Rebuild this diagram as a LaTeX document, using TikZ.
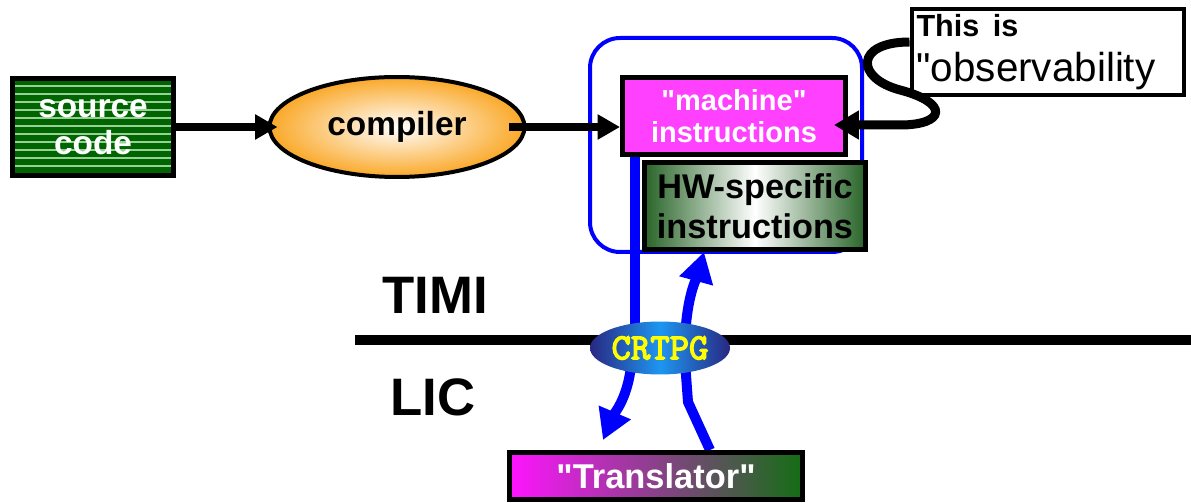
\documentclass[tikz,border=0pt]{standalone}
\usepackage{fontspec}
\setmainfont{Liberation Sans}[Ligatures=TeXOff]
\newfontfamily\crtfont{lmmono10-regular.otf}[AutoFakeBold=3.5]
\usetikzlibrary{arrows.meta,shapes.geometric,positioning,backgrounds,calc}

\definecolor{srcgreen}{RGB}{0,100,0}
\definecolor{stripegreen}{RGB}{150,210,150}
\definecolor{comporange}{RGB}{250,168,40}
\definecolor{machmagenta}{RGB}{255,64,255}
\definecolor{hwgreen}{RGB}{40,100,40}
\definecolor{trmagenta}{RGB}{255,20,255}
\definecolor{trgreen}{RGB}{20,110,20}
\definecolor{crtdark}{RGB}{40,40,130}
\definecolor{crtlight}{RGB}{30,150,240}
\definecolor{crtyellow}{RGB}{255,255,0}

\tikzset{
	bigtext/.style={font=\bfseries\fontsize{19}{21}\selectfont},
	srcbox/.style={draw, line width=0.1cm, fill=srcgreen, text=white, bigtext, align=center,
		minimum width=3.24cm, minimum height=1.94cm, inner sep=0pt,
		path picture={\foreach \k in {0,...,12}
			\draw[stripegreen, line width=0.04cm] ($(path picture bounding box.north west)+(0,\k*8+7)$) -- ++(200,0);}},
	compnode/.style={ellipse, draw, line width=0.08cm, inner color=white, outer color=comporange,
		bigtext, minimum width=5.1cm, minimum height=2cm, inner sep=1pt},
	machbox/.style={draw, line width=0.1cm, fill=machmagenta, text=white, align=center,
		font=\bfseries\fontsize{16.5}{18}\selectfont, minimum width=4.46cm, minimum height=1.56cm, inner sep=0pt},
	hwbox/.style={draw, line width=0.1cm, left color=hwgreen, right color=hwgreen, middle color=white,
		align=center, font=\bfseries\fontsize{19.5}{22.7}\selectfont, minimum width=4.42cm, minimum height=1.74cm, inner sep=0pt},
	notebox/.style={draw, line width=0.08cm, fill=white, align=left, text width=5.26cm, inner sep=0.1cm,
		minimum height=1.7cm, font=\fontsize{23}{25.5}\selectfont},
	crtnode/.style={ellipse, left color=crtdark, right color=crtdark, middle color=crtlight,
		minimum width=2.8cm, minimum height=1.06cm, inner sep=0pt},
	crtlbl/.style={text=crtyellow, font=\crtfont\bfseries\fontsize{21}{24}\selectfont, inner sep=0pt},
	trbox/.style={draw, line width=0.1cm, left color=trmagenta, right color=trgreen, text=white,
		font=\bfseries\fontsize{19.6}{22}\selectfont, minimum width=5.86cm, minimum height=0.94cm, inner sep=0pt},
	lvltext/.style={font=\bfseries\fontsize{30}{34}\selectfont},
	flow/.style={line width=0.15cm, -{Triangle[length=0.45cm,width=0.48cm]}},
	noteline/.style={line width=0.18cm, -{Triangle[length=0.5cm,width=0.55cm]}},
	ctl/.style={blue, line width=0.2cm},
	ctlarrow/.style={ctl, -{Triangle[length=0.6cm,width=0.66cm]}},
	group/.style={draw=blue, line width=0.08cm, rounded corners=0.6cm},
	lvlline/.style={line width=0.2cm}
}

\begin{document}
\begin{tikzpicture}[x=0.02cm,y=-0.02cm]
	\useasboundingbox (0,0) rectangle (1191,503);

	\node[srcbox] (src) at (93,127) {source\\code};
	\node[compnode] (comp) at (397,127) {compiler};
	\node[machbox] (mach) at (734,116) {"machine"\\instructions};
	\node[hwbox] (hw) at (755,206) {HW-specific\\instructions};
	\node[notebox] (obs) at (1048,52) {{\fontsize{17.4}{20}\bfseries This~is}\\"observability};

	\node[lvltext] (timi) at (435,295) {TIMI};
	\node[lvltext] (lic) at (433,397) {LIC};

	\node[crtnode] (crt) at (660,348) {};
	\node[crtlbl] (crtname) at (crt.center) {CRTPG};
	\node[trbox] (tr) at (656,476) {"Translator"};

	% compile chain
	\draw[flow] (src.east) -- ([xshift=0.2cm]comp.west);
	\draw[flow] ([xshift=-0.35cm]comp.east) -- (comp.east -| mach.west);
	\draw[noteline] ([yshift=0.2cm]obs.west) .. controls (855,42) and (855,78) .. (900,90)
		.. controls (950,103) and (945,125) .. (900,125) -- ([shift={(-14,9)}]mach.east);

	\begin{scope}[on background layer]
		\draw[group] (590,38) rectangle (862,252);
		\draw[lvlline] (355,340) -- (1191,340);

		\coordinate (bar) at ([xshift=0.3cm]mach.south west);
		\draw[ctl] (bar) -- (bar |- crt.center);
		\draw[ctlarrow] ([xshift=0.5cm]crt.center) .. controls +(0,-50) and +(-6,22) .. ([xshift=-1.02cm]hw.south);
		\draw[ctlarrow] ([xshift=-0.56cm]crt.center) .. controls +(0,45) and +(12,-28) .. ([shift={(-53,-10)}]tr.north);
		\draw[ctl] ([xshift=1.08cm]tr.north) -- (688,402) -- ([xshift=0.48cm]crt.center);
	\end{scope}
\end{tikzpicture}
\end{document}
